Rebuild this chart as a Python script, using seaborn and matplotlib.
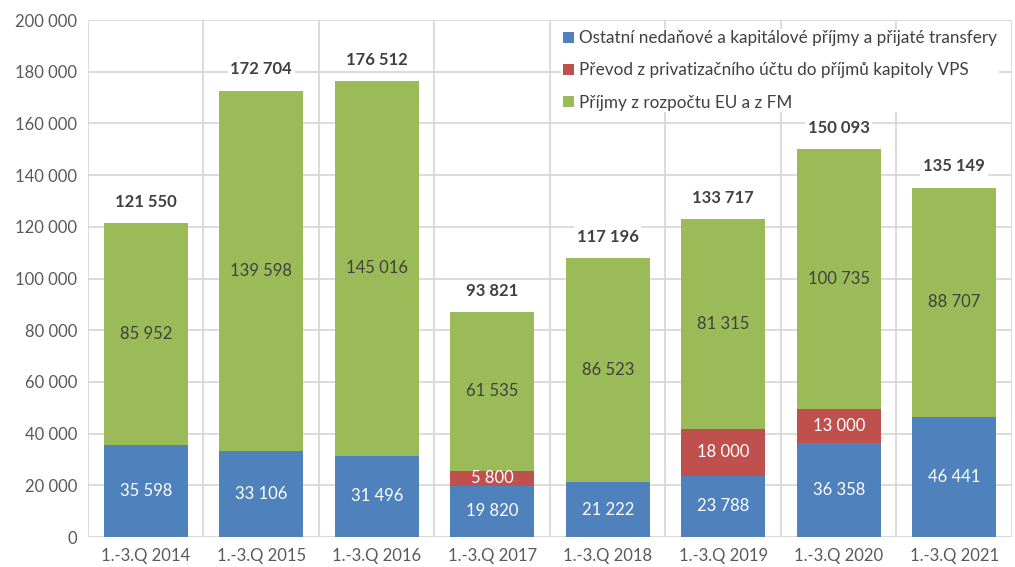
import matplotlib
matplotlib.use("Agg")
import matplotlib.pyplot as plt
import numpy as np
import pandas as pd
import seaborn as sns

categories = ["1.-3.Q 2014", "1.-3.Q 2015", "1.-3.Q 2016", "1.-3.Q 2017",
              "1.-3.Q 2018", "1.-3.Q 2019", "1.-3.Q 2020", "1.-3.Q 2021"]
ostatni = [35598, 33106, 31496, 19820, 21222, 23788, 36358, 46441]
prevod = [0, 0, 0, 5800, 0, 18000, 13000, 0]
eu_fm = [85952, 139598, 145016, 61535, 86523, 81315, 100735, 88707]
totals = [121550, 172704, 176512, 93821, 117196, 133717, 150093, 135149]

labels = ["Ostatní nedaňové a kapitálové příjmy a přijaté transfery",
          "Převod z privatizačního účtu do příjmů kapitoly VPS",
          "Příjmy z rozpočtu EU a z FM"]
colors = ["#4F81BD", "#C0504D", "#9BBB59"]


def fmt(v):
    return f"{v:,.0f}".replace(",", " ")


sns.set_style("white")
plt.rcParams["font.family"] = ["Lato", "DejaVu Sans"]

df = pd.DataFrame({"cat": categories, "blue": ostatni, "red": prevod, "green": eu_fm})
df["top_red"] = df["blue"] + df["red"]
df["top_green"] = df["top_red"] + df["green"]

fig = plt.figure(figsize=(10.15, 5.67), dpi=100)
ax = fig.add_axes([0.0867, 0.0529, 0.9103, 0.9118])

for y in range(20000, 200001, 20000):
    ax.axhline(y, color="#d9d9d9", lw=1.3, zorder=0)
for x in np.arange(-0.5, 8, 1):
    ax.axvline(x, color="#d9d9d9", lw=1.3, zorder=0)
ax.axhline(0, color="#d9d9d9", lw=1.5, zorder=0)

w = 0.73
sns.barplot(data=df, x="cat", y="top_green", color=colors[2], width=w,
            saturation=1, ax=ax, label=labels[2], zorder=2, linewidth=0)
sns.barplot(data=df, x="cat", y="top_red", color=colors[1], width=w,
            saturation=1, ax=ax, label=labels[1], zorder=2, linewidth=0)
sns.barplot(data=df, x="cat", y="blue", color=colors[0], width=w,
            saturation=1, ax=ax, label=labels[0], zorder=2, linewidth=0)

for i, row in df.iterrows():
    ax.text(i, row["blue"] / 2, fmt(row["blue"]), ha="center", va="center",
            color="white", fontsize=12, zorder=3)
    if row["red"] > 0:
        ax.text(i, row["blue"] + row["red"] / 2, fmt(row["red"]), ha="center",
                va="center", color="white", fontsize=12, zorder=3)
    ax.text(i, row["top_red"] + row["green"] / 2, fmt(row["green"]), ha="center",
            va="center", color="#404040", fontsize=12, zorder=3)
    ax.text(i, row["top_green"] + 8200, fmt(totals[i]), ha="center", va="center",
            color="#404040", fontsize=12, fontweight="bold", zorder=6,
            bbox=dict(facecolor="white", edgecolor="none", pad=2))

ax.set_xlim(-0.5, 7.5)
ax.set_ylim(0, 200000)
ax.set_yticks(range(0, 200001, 20000))
ax.set_yticklabels([fmt(v) for v in range(0, 200001, 20000)])
ax.set_xlabel("")
ax.set_ylabel("")
ax.tick_params(axis="both", length=0, labelsize=12, colors="#595959", pad=8)
for s in ax.spines.values():
    s.set_visible(False)

h, l = ax.get_legend_handles_labels()
order = [l.index(t) for t in labels]
leg = ax.legend([h[k] for k in order], [l[k] for k in order], loc="upper right",
                bbox_to_anchor=(0.995, 1.0), fontsize=12.3, frameon=True,
                facecolor="white", edgecolor="none", framealpha=1,
                handlelength=0.65, handleheight=0.65, handletextpad=0.3,
                labelspacing=0.95, borderpad=0.1)
for t in leg.get_texts():
    t.set_color("#404040")
leg.set_zorder(5)

fig.savefig("out.png", dpi=100)
